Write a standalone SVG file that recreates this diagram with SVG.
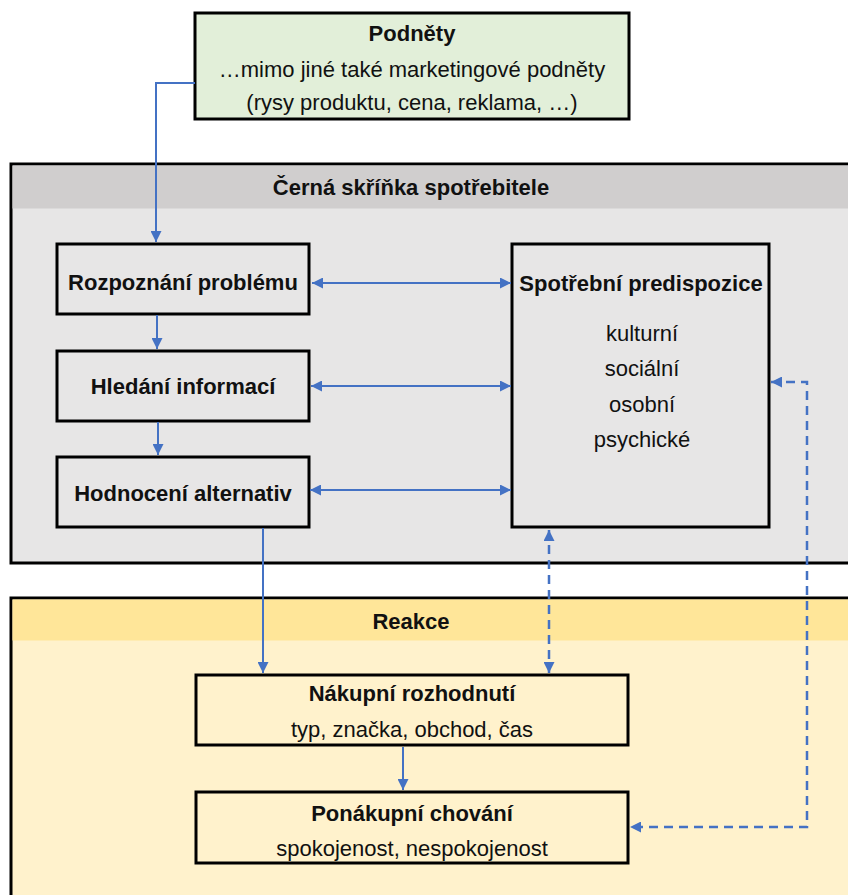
<svg xmlns="http://www.w3.org/2000/svg" width="848" height="895" viewBox="0 0 848 895">
<defs>
<marker id="ah" viewBox="0 0 10 10" refX="10" refY="5" markerWidth="11" markerHeight="11" markerUnits="userSpaceOnUse" orient="auto-start-reverse">
<path d="M0,0 L10,5 L0,10 z" fill="#4472c4"/>
</marker>
<style>
.box{stroke:#000;stroke-width:3}
.t{font-family:"Liberation Sans",Arial,sans-serif;font-size:22px;fill:#111;text-anchor:middle}
.b{font-weight:bold}
.c{fill:none;stroke:#4472c4;stroke-width:2}
.d{fill:none;stroke:#4472c4;stroke-width:2.5;stroke-dasharray:9,6}
</style>
</defs>
<rect width="848" height="895" fill="#fff"/>

<g id="black-box">
<rect x="11" y="164" width="850" height="399" fill="#e7e6e6" class="box"/>
<rect x="12.5" y="165.5" width="850" height="43" fill="#d0cece"/>
<text x="411" y="195" class="t b">Černá skříňka spotřebitele</text>
</g>

<g id="reakce">
<rect x="11" y="598" width="850" height="310" fill="#fff2cc" class="box"/>
<rect x="12.5" y="599.5" width="850" height="41" fill="#ffe699"/>
<text x="411" y="629" class="t b">Reakce</text>
</g>

<g id="podnety">
<rect x="195" y="13" width="434" height="106" fill="#e2efd9" class="box"/>
<text x="412" y="41" class="t b">Podněty</text>
<text x="412" y="77" class="t">…mimo jiné také marketingové podněty</text>
<text x="412" y="110" class="t">(rysy produktu, cena, reklama, …)</text>
</g>

<g id="rozpoznani">
<rect x="57" y="244" width="252" height="70" fill="#e7e6e6" class="box"/>
<text x="183" y="290" class="t b">Rozpoznání problému</text>
</g>

<g id="hledani">
<rect x="57" y="351" width="252" height="70" fill="#e7e6e6" class="box"/>
<text x="183" y="394" class="t b">Hledání informací</text>
</g>

<g id="hodnoceni">
<rect x="57" y="457" width="252" height="70" fill="#e7e6e6" class="box"/>
<text x="183" y="501" class="t b">Hodnocení alternativ</text>
</g>

<g id="predispozice">
<rect x="512" y="244" width="257" height="283" fill="#e7e6e6" class="box"/>
<text x="641" y="291" class="t b">Spotřební predispozice</text>
<text x="642" y="341" class="t">kulturní</text>
<text x="642" y="376" class="t">sociální</text>
<text x="642" y="412" class="t">osobní</text>
<text x="642" y="447" class="t">psychické</text>
</g>

<g id="nakupni">
<rect x="196" y="675" width="432" height="70" fill="#fff2cc" class="box"/>
<text x="412" y="701" class="t b">Nákupní rozhodnutí</text>
<text x="412" y="737" class="t">typ, značka, obchod, čas</text>
</g>

<g id="ponakupni">
<rect x="196" y="792" width="432" height="71" fill="#fff2cc" class="box"/>
<text x="412" y="821" class="t b">Ponákupní chování</text>
<text x="412" y="856" class="t">spokojenost, nespokojenost</text>
</g>

<g id="connectors">
<path class="c" d="M195,83 H156 V242" marker-end="url(#ah)"/>
<path class="c" d="M157,315 V349" marker-end="url(#ah)"/>
<path class="c" d="M158,422 V455" marker-end="url(#ah)"/>
<path class="c" d="M312,283 H511" marker-start="url(#ah)" marker-end="url(#ah)"/>
<path class="c" d="M311,386 H511" marker-start="url(#ah)" marker-end="url(#ah)"/>
<path class="c" d="M310,490 H511" marker-start="url(#ah)" marker-end="url(#ah)"/>
<path class="c" d="M263,528 V673" marker-end="url(#ah)"/>
<path class="c" d="M403,747 V790" marker-end="url(#ah)"/>
<path class="d" d="M549,530 V673" marker-start="url(#ah)" marker-end="url(#ah)"/>
<path class="d" d="M771,382 H807 V827 H630" marker-start="url(#ah)" marker-end="url(#ah)"/>
</g>
</svg>
